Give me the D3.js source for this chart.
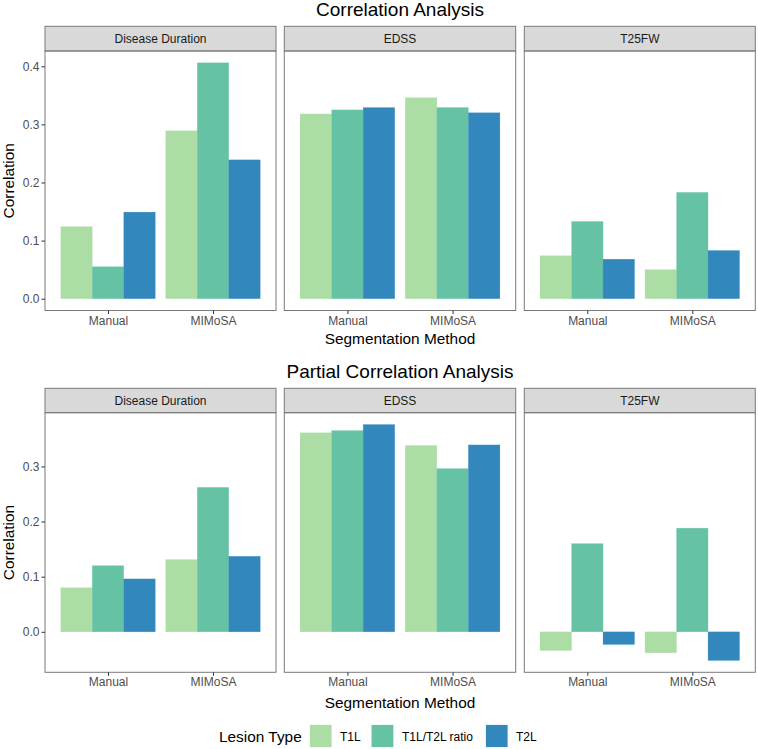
<!DOCTYPE html>
<html><head><meta charset="utf-8">
<script src="https://cdn.jsdelivr.net/npm/d3@7"></script>
<style>body{margin:0;background:#fff;} text{font-family:"Liberation Sans",Arial,sans-serif;}</style>
</head><body>
<svg id="chart" width="758" height="749"></svg>
<script>
const outcomes = ["Disease Duration", "EDSS", "T25FW"];
const methods = ["Manual", "MIMoSA"];
const lesionTypes = ["T1L", "T1L/T2L ratio", "T2L"];
const colors = ["#abdda4", "#66c2a5", "#3288bd"];

// Correlation: [outcome][method][lesion]
const corrValues = [
  [[0.124, 0.055, 0.149], [0.289, 0.406, 0.239]],
  [[0.318, 0.325, 0.329], [0.346, 0.329, 0.320]],
  [[0.074, 0.133, 0.068], [0.050, 0.183, 0.083]]
];
const partialValues = [
  [[0.080, 0.120, 0.096], [0.131, 0.262, 0.137]],
  [[0.361, 0.365, 0.376], [0.338, 0.296, 0.339]],
  [[-0.034, 0.160, -0.023], [-0.038, 0.188, -0.052]]
];
const corrTicks = [0.0, 0.1, 0.2, 0.3, 0.4];
const partialTicks = [0.0, 0.1, 0.2, 0.3];

const svg = d3.select("#chart");
const panelX = [[45, 276], [284.3, 515.7], [524.3, 755.3]];
const FONT = "Liberation Sans, Arial, sans-serif";

function drawBlock(cfg) {
  const all = cfg.values.flat(2);
  const mn = Math.min(0, d3.min(all)), mx = Math.max(0, d3.max(all));
  const pad = (mx - mn) * 0.05;
  const y = d3.scaleLinear().domain([mn - pad, mx + pad]).range([cfg.panelBottom, cfg.panelTop]);

  svg.append("text").attr("x", 400).attr("y", cfg.titleY).attr("text-anchor", "middle")
    .attr("font-size", 19).attr("fill", "#000").text(cfg.title);

  outcomes.forEach((o, i) => {
    const [x0, x1] = panelX[i];
    const xc = d3.scaleLinear().domain([0.4, 2.6]).range([x0, x1]);
    const unit = xc(1) - xc(0);
    const g = svg.append("g");
    g.append("rect").attr("x", x0).attr("y", cfg.stripTop).attr("width", x1 - x0)
      .attr("height", cfg.panelTop - cfg.stripTop).attr("fill", "#d9d9d9").attr("stroke", "#7a7a7a").attr("stroke-width", 1);
    g.append("text").attr("x", (x0 + x1) / 2).attr("y", (cfg.stripTop + cfg.panelTop) / 2 + 4.3)
      .attr("text-anchor", "middle").attr("font-size", 12).attr("fill", "#1a1a1a").text(o);
    methods.forEach((m, j) => {
      const center = xc(j + 1);
      const sub = d3.scaleBand().domain(lesionTypes).range([center - 0.45 * unit, center + 0.45 * unit]);
      lesionTypes.forEach((l, k) => {
        const v = cfg.values[i][j][k];
        g.append("rect").attr("x", sub(l)).attr("width", sub.bandwidth())
          .attr("y", y(Math.max(0, v))).attr("height", Math.abs(y(v) - y(0)))
          .attr("fill", colors[k]).attr("stroke", colors[k]).attr("stroke-opacity", 0.4).attr("stroke-width", 0.5);
      });
    });
    g.append("rect").attr("x", x0).attr("y", cfg.panelTop).attr("width", x1 - x0)
      .attr("height", cfg.panelBottom - cfg.panelTop).attr("fill", "none").attr("stroke", "#7a7a7a").attr("stroke-width", 1);
    const xa = svg.append("g").attr("transform", `translate(0,${cfg.panelBottom})`)
      .call(d3.axisBottom(d3.scaleOrdinal().domain(methods).range([xc(1), xc(2)])).tickSize(3.5).tickPadding(2));
    xa.select(".domain").remove();
    xa.selectAll("line").attr("stroke", "#333");
    xa.selectAll("text").attr("font-size", 12).attr("fill", "#4d4d4d").attr("font-family", FONT);
    if (i === 0) {
      const ya = svg.append("g").attr("transform", `translate(${x0},0)`)
        .call(d3.axisLeft(y).tickValues(cfg.ticks).tickFormat(d3.format(".1f")).tickSize(3.5).tickPadding(2));
      ya.select(".domain").remove();
      ya.selectAll("line").attr("stroke", "#333");
      ya.selectAll("text").attr("font-size", 12).attr("fill", "#4d4d4d").attr("font-family", FONT);
    }
  });
  svg.append("text").attr("transform", `translate(13.5,${(cfg.panelTop + cfg.panelBottom) / 2}) rotate(-90)`)
    .attr("text-anchor", "middle").attr("font-size", 15.4).attr("fill", "#000").text("Correlation");
  svg.append("text").attr("x", 400).attr("y", cfg.xTitleY).attr("text-anchor", "middle")
    .attr("font-size", 15.4).attr("fill", "#000").text("Segmentation Method");
}

drawBlock({title: "Correlation Analysis", titleY: 15.5, stripTop: 26.3, panelTop: 51, panelBottom: 310.5,
  values: corrValues, ticks: corrTicks, xTitleY: 344});
drawBlock({title: "Partial Correlation Analysis", titleY: 377.5, stripTop: 388.3, panelTop: 412.7, panelBottom: 672.3,
  values: partialValues, ticks: partialTicks, xTitleY: 707.5});

const lg = svg.append("g");
lg.append("text").attr("x", 219).attr("y", 741.5).attr("font-size", 15.4).attr("fill", "#000").text("Lesion Type");
const keyX = [310, 371.7, 486];
const labX = [340, 402, 516];
lesionTypes.forEach((l, k) => {
  lg.append("rect").attr("x", keyX[k]).attr("y", 725).attr("width", 21.5).attr("height", 22)
    .attr("fill", colors[k]).attr("stroke", colors[k]).attr("stroke-opacity", 0.4).attr("stroke-width", 0.5);
  lg.append("text").attr("x", labX[k]).attr("y", 740.5).attr("font-size", 12).attr("fill", "#000").text(l);
});
</script>
</body></html>
